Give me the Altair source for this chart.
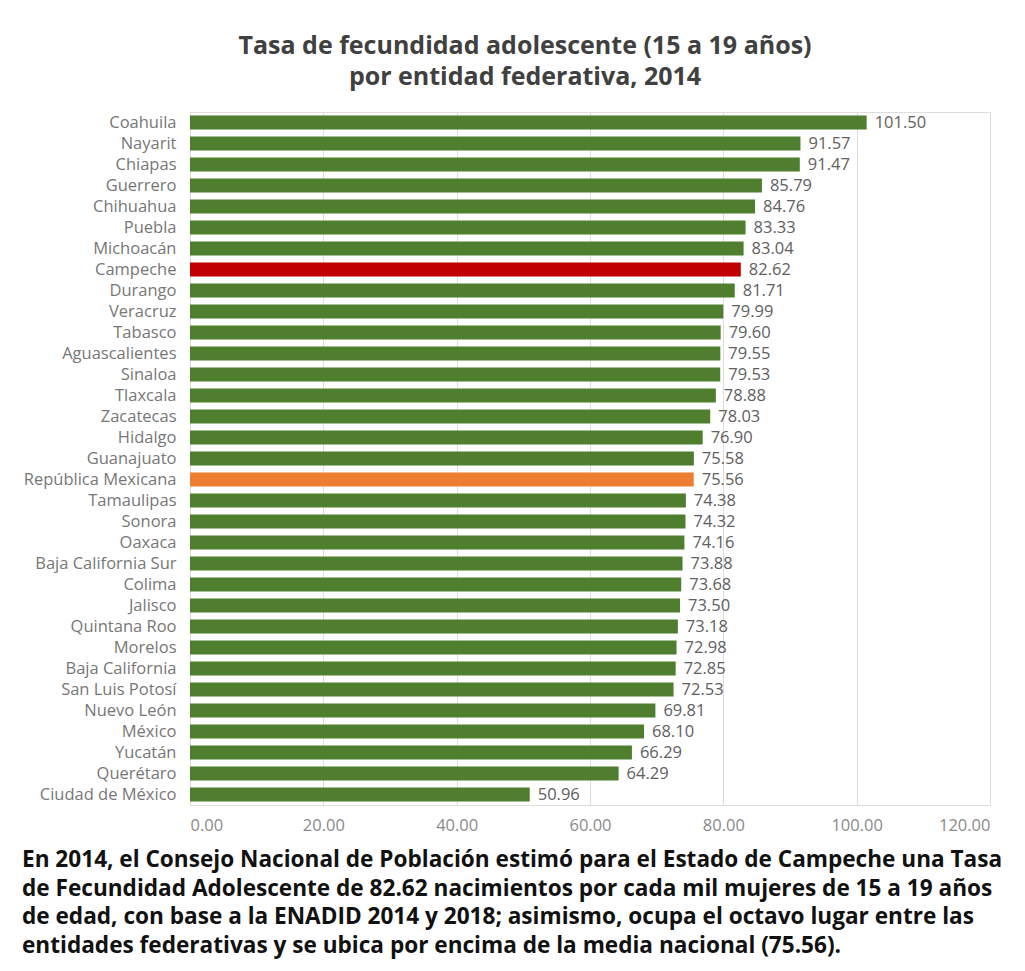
import altair as alt
import pandas as pd

states = ["Coahuila", "Nayarit", "Chiapas", "Guerrero", "Chihuahua", "Puebla", "Michoacán",
          "Campeche", "Durango", "Veracruz", "Tabasco", "Aguascalientes", "Sinaloa", "Tlaxcala",
          "Zacatecas", "Hidalgo", "Guanajuato", "República Mexicana", "Tamaulipas", "Sonora",
          "Oaxaca", "Baja California Sur", "Colima", "Jalisco", "Quintana Roo", "Morelos",
          "Baja California", "San Luis Potosí", "Nuevo León", "México", "Yucatán", "Querétaro",
          "Ciudad de México"]
rates = [101.50, 91.57, 91.47, 85.79, 84.76, 83.33, 83.04, 82.62, 81.71, 79.99, 79.60, 79.55,
         79.53, 78.88, 78.03, 76.90, 75.58, 75.56, 74.38, 74.32, 74.16, 73.88, 73.68, 73.50,
         73.18, 72.98, 72.85, 72.53, 69.81, 68.10, 66.29, 64.29, 50.96]
groups = ["Entidad"] * len(states)
groups[states.index("Campeche")] = "Campeche"
groups[states.index("República Mexicana")] = "Nacional"

title_lines = ["Tasa de fecundidad adolescente (15 a 19 años)", "por entidad federativa, 2014"]
caption_lines = [
    "En 2014, el Consejo Nacional de Población estimó para el Estado de Campeche una Tasa",
    "de Fecundidad Adolescente de 82.62 nacimientos por cada mil mujeres de 15 a 19 años",
    "de edad, con base a la ENADID 2014 y 2018; asimismo,  ocupa el octavo lugar entre las",
    "entidades federativas y se ubica por encima de la media nacional (75.56).",
]

df = pd.DataFrame({"estado": states, "tasa": rates, "grupo": groups})

FONT = "Open Sans"

y_enc = alt.Y("estado:N", sort=None, title=None,
              scale=alt.Scale(paddingInner=0.33, paddingOuter=0.165),
              axis=alt.Axis(ticks=False, domain=False, labelPadding=14, labelFontSize=16.5,
                            labelColor="#777777", labelFont=FONT, grid=False))
x_enc = alt.X("tasa:Q", title=None,
              scale=alt.Scale(domain=[0, 120], nice=False),
              axis=alt.Axis(values=[0, 20, 40, 60, 80, 100, 120], format=".2f", ticks=False,
                            domain=False, grid=True, gridColor="#dcdcdc", labelPadding=12,
                            labelFontSize=16.5, labelColor="#8a8a8a", labelFont=FONT))

bars = alt.Chart(df).mark_bar(size=14).encode(
    x=x_enc, y=y_enc,
    color=alt.Color("grupo:N", legend=None,
                    scale=alt.Scale(domain=["Entidad", "Campeche", "Nacional"],
                                    range=["#4f7f2e", "#c00000", "#ed7d31"])),
)

labels = alt.Chart(df).mark_text(align="left", baseline="middle", dx=8, fontSize=16.5,
                                 color="#606060", font=FONT).encode(
    x="tasa:Q", y=alt.Y("estado:N", sort=None),
    text=alt.Text("tasa:Q", format=".2f"),
)

caption = alt.Chart(pd.DataFrame({"k": [0]})).mark_text(
    align="left", baseline="top", fontSize=22.6, fontWeight="bold", font=FONT,
    color="#111111", lineHeight=28.5,
).encode(x=alt.value(-168), y=alt.value(737), text=alt.value(caption_lines))

chart = alt.layer(bars, labels, caption).properties(
    width=800, height=693,
    title=alt.TitleParams(text=title_lines, anchor="middle", dx=-65, fontSize=25,
                          fontWeight="bold", font=FONT, color="#404040", lineHeight=31,
                          offset=22),
    autosize=alt.AutoSizeParams(type="none"),
    padding={"left": 190, "top": 112, "right": 35, "bottom": 166},
).configure_view(stroke=None).configure(background="white")

chart.save("out.html", embed_options={"renderer": "svg", "actions": False})
